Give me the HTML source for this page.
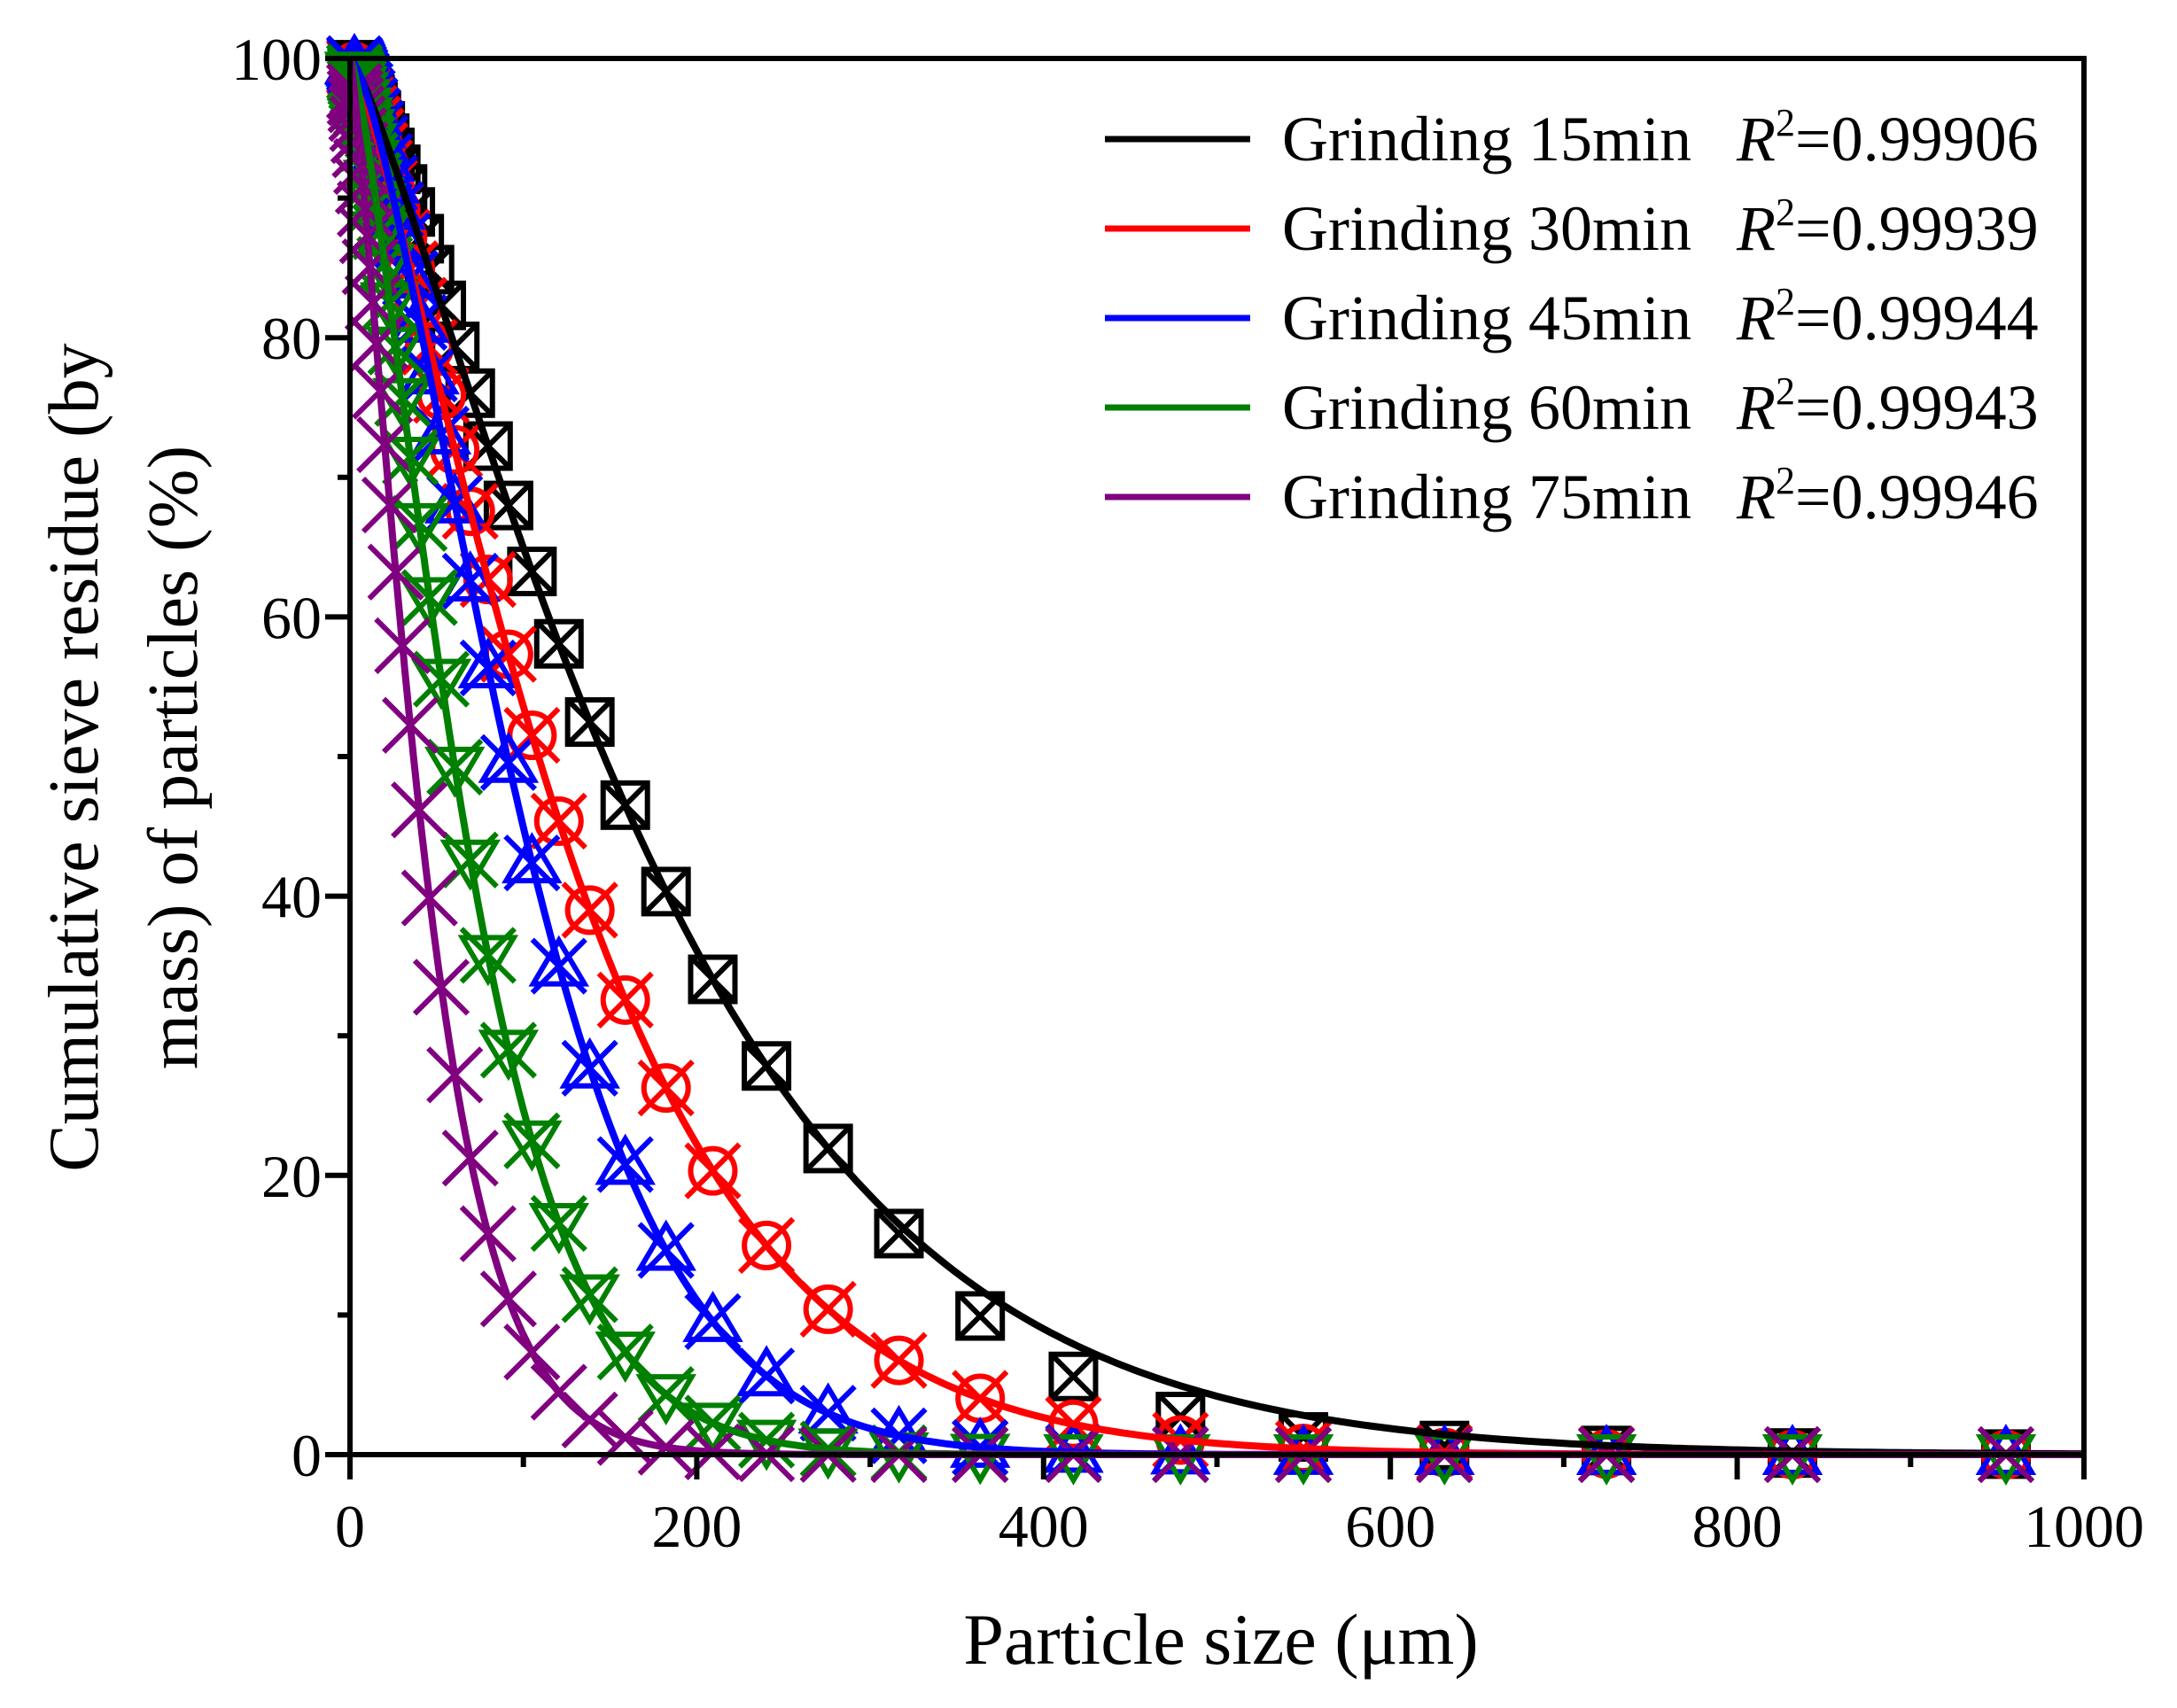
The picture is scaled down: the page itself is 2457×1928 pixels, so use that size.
<!DOCTYPE html>
<html><head><meta charset="utf-8"><style>
html,body{margin:0;padding:0;background:#fff;}
svg{display:block;}
text{font-family:"Liberation Serif",serif;fill:#000;}
</style></head><body>
<svg id="s" width="2457" height="1928" viewBox="0 0 2457 1928" xmlns="http://www.w3.org/2000/svg">
<g id="data"></g>
<g id="axes" fill="none" stroke="#000" stroke-width="6"></g>
<g id="labels"></g>
<text x="1378" y="1878" font-size="82" text-anchor="middle">Particle size (μm)</text>
<text transform="translate(110,855) rotate(-90)" font-size="80" text-anchor="middle">Cumulative sieve residue (by</text>
<text transform="translate(222,855) rotate(-90)" font-size="80" text-anchor="middle">mass) of particles (%)</text>
<g id="legend"></g>
</svg>
<script>
const NS="http://www.w3.org/2000/svg";
const L=395,R=2352,T=66,B=1642;
const X=v=>L+v*(R-L)/1000, Y=v=>B-v*(B-T)/100;
function el(p,tag,a,txt){const e=document.createElementNS(NS,tag);for(const k in a)e.setAttribute(k,a[k]);if(txt!==undefined)e.textContent=txt;p.appendChild(e);return e;}
const data=document.getElementById('data'),axes=document.getElementById('axes'),lab=document.getElementById('labels'),leg=document.getElementById('legend');
const series=[
 {c:'#000',xe:197,n:1.24,m:'sq',lab:'15min',r:'0.99906'},
 {c:'#ff0000',xe:145,n:1.27,m:'ci',lab:'30min',r:'0.99939'},
 {c:'#0000ff',xe:116.5,n:1.46,m:'tu',lab:'45min',r:'0.99944'},
 {c:'#008000',xe:78,n:1.35,m:'td',lab:'60min',r:'0.99943'},
 {c:'#800080',xe:49,n:1.26,m:'x',lab:'75min',r:'0.99946'}];
const sizes=[];for(let s=955;s>2.5;s/=1.148)sizes.push(s);
function marker(g,m,x,y,c){
 const a={stroke:c,'stroke-width':6,fill:'none'};const h=25,k=30;
 const X2=`M${x-k} ${y-k}L${x+k} ${y+k}M${x+k} ${y-k}L${x-k} ${y+k}`;
 if(m==='sq'){el(g,'rect',Object.assign({x:x-h,y:y-h,width:2*h,height:2*h},a));el(g,'path',Object.assign({d:`M${x-h} ${y-h}L${x+h} ${y+h}M${x+h} ${y-h}L${x-h} ${y+h}`},a));}
 if(m==='ci'){el(g,'circle',Object.assign({cx:x,cy:y,r:h},a));el(g,'path',Object.assign({d:X2},a));}
 if(m==='tu'){el(g,'path',Object.assign({d:`M${x} ${y-29}L${x+29} ${y+20}L${x-29} ${y+20}Z`},a));el(g,'path',Object.assign({d:X2},a));}
 if(m==='td'){el(g,'path',Object.assign({d:`M${x} ${y+29}L${x+29} ${y-20}L${x-29} ${y-20}Z`},a));el(g,'path',Object.assign({d:X2},a));}
 if(m==='x'){el(g,'path',Object.assign({d:X2},a));}
}
const f=(s,x)=>100*Math.exp(-Math.pow(x/s.xe,s.n));
const fm=(s,x)=>{let v=f(s,x);if(s.m==='sq'&&x>300)v*=Math.max(0.45,1-(x-300)/400);return v;};
series.forEach(s=>{const g=el(data,'g',{});sizes.forEach(x=>marker(g,s.m,X(x),Y(fm(s,x)),s.c));});
series.forEach(s=>{let d='';for(let x=0;x<=1000;x+=(x<100?0.5:4)){d+=(d?'L':'M')+X(x).toFixed(1)+' '+Y(f(s,x)).toFixed(1);}el(data,'path',{d,stroke:s.c,'stroke-width':8,fill:'none'});});
el(axes,'rect',{x:L,y:T,width:R-L,height:B-T});
for(let v=0;v<=100;v+=10){const y=Y(v);el(axes,'line',{x1:L,x2:L-(v%20?14:28),y1:y,y2:y});if(v%20===0)el(lab,'text',{x:L-32,y:y+24,'font-size':68,'text-anchor':'end'},String(v));}
for(let v=0;v<=1000;v+=100){const x=X(v);el(axes,'line',{x1:x,x2:x,y1:B,y2:B+(v%200?14:28)});if(v%200===0)el(lab,'text',{x:x,y:B+104,'font-size':68,'text-anchor':'middle'},String(v));}
series.forEach((s,i)=>{const y=157+i*101;el(leg,'line',{x1:1247,x2:1411,y1:y,y2:y,stroke:s.c,'stroke-width':7});
 const t=el(leg,'text',{x:1447,y:y+24,'font-size':72});
 el(t,'tspan',{},'Grinding '+s.lab);
 el(t,'tspan',{x:1960,'font-style':'italic'},'R');
 el(t,'tspan',{'font-size':44,dy:-28},'2');
 el(t,'tspan',{dy:28},'='+s.r);});
</script>
</body></html>
